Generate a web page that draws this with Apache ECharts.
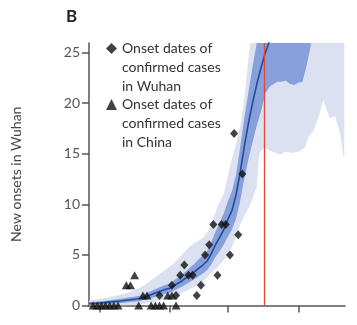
<!DOCTYPE html>
<html><head><meta charset="utf-8">
<script src="https://cdn.jsdelivr.net/npm/echarts@6/dist/echarts.min.js"></script>
<style>html,body{margin:0;padding:0;background:#fff}#c{width:357px;height:325px}</style>
</head><body><div id="c"></div>
<script>
// ---- data (x = days since Dec 1, 2019) ----
const panelLabel = 'B';
const yAxisTitle = 'New onsets in Wuhan';
const yTickStep = 5;
const xTickDays = [14, 31, 45, 62];      // Dec 15, Jan 1, Jan 15, Feb 1
const lockdownDay = 53.8;
const legendWuhan = 'Onset dates of\nconfirmed cases\nin Wuhan';
const legendChina = 'Onset dates of\nconfirmed cases\nin China';

const curve = [[11.5,0.19],[12,0.2],[13,0.22],[14,0.25],[15,0.28],[16,0.33],[17,0.37],[18,0.41],[19,0.45],[20,0.5],[21,0.55],[22,0.6],[23,0.65],[24,0.72],[25,0.85],[26,1.0],[27,1.15],[28,1.3],[29,1.45],[30,1.6],[31,1.7],[32,1.95],[33,2.2],[34,2.45],[35,2.75],[36,3.05],[37,3.35],[38,3.7],[39,4.0],[40,4.4],[41,5.1],[42,6.0],[43,6.7],[44,7.5],[45,8.5],[46,9.4],[47,11.0],[48,13.2],[49,15.8],[50,18.1],[51,20.1],[52,21.9],[53,23.5],[54,24.9],[55,26.1],[56,27.3]];

// [day, lower, upper]
const innerBand = [[11.5,0.07,0.34],[12,0.08,0.35],[13,0.09,0.37],[14,0.1,0.4],[15,0.12,0.44],[16,0.15,0.5],[17,0.18,0.55],[18,0.21,0.6],[19,0.24,0.66],[20,0.28,0.72],[21,0.32,0.78],[22,0.36,0.85],[23,0.4,0.92],[24,0.46,1.0],[25,0.56,1.15],[26,0.68,1.34],[27,0.8,1.52],[28,0.92,1.7],[29,1.05,1.88],[30,1.17,2.05],[31,1.27,2.17],[32,1.47,2.47],[33,1.67,2.77],[34,1.88,3.07],[35,2.12,3.42],[36,2.38,3.8],[37,2.62,4.15],[38,2.9,4.6],[39,3.15,4.95],[40,3.5,5.4],[41,4.05,6.25],[42,4.8,7.3],[43,5.35,8.15],[44,6.0,9.1],[45,6.8,10.3],[46,7.5,11.3],[47,8.6,13.0],[48,10.4,15.7],[49,12.6,18.6],[50,14.5,21.2],[51,16.2,23.7],[52,17.8,26.0],[53,19.2,28.5],[54,20.9,31],[55,21.6,34],[56,21.9,37],[57,22.1,40],[58,22.1,40],[59,22.2,40],[60,21.9,40],[61,21.8,40],[62,22.0,40],[63,22.1,40],[64,23.7,40],[65,25.7,40],[65.5,27,40]];

const outerBand = [[11.5,0,0.5],[12,0,0.55],[13,0,0.6],[14,0,0.65],[15,0,0.72],[16,0,0.8],[17,0,0.88],[18,0,0.95],[19,0,1.05],[20,0,1.15],[21,0.02,1.3],[22,0.05,1.45],[23,0.08,1.6],[24,0.12,1.8],[25,0.18,2.05],[26,0.25,2.35],[27,0.35,2.65],[28,0.45,2.95],[29,0.55,3.25],[30,0.65,3.55],[31,0.75,3.85],[32,0.9,4.2],[33,1.05,4.6],[34,1.25,5.05],[35,1.45,5.5],[36,1.65,5.9],[37,1.85,6.2],[38,2.1,6.4],[39,2.4,6.7],[40,2.8,7.2],[41,3.2,8.1],[42,3.6,9.2],[43,4.0,10.2],[44,4.5,11.0],[45,5.1,12.8],[46,5.8,14.5],[47,6.8,16.0],[48,8.0,17.8],[49,8.9,20.5],[50,9.6,24.5],[51,10.6,28],[52,11.8,32],[52.5,14.8,34],[53,15.3,36],[54,15.6,40],[54.8,15.4,40],[56.4,15.1,40],[57.6,14.9,40],[58.8,15.2,40],[60.4,15.1,40],[62,15.2,40],[63.6,15.6,40],[64.4,16.6,40],[65.6,17.2,40],[66.8,18.5,40],[68,20.3,40],[69.6,18.5,40],[70.9,18.7,40],[72.1,16.9,40],[72.9,14.7,40],[73.1,14.7,40]];

const wuhanOnsets = [[28.5,1],[31.5,2],[32.5,1],[33.5,3],[34.5,4],[35.5,3],[36.5,3],[37.5,1],[38.5,2],[39.5,5],[40.5,6],[41.5,8],[42.5,3],[43.5,8],[44.5,8],[45.5,5],[46.5,17],[47.5,7],[48.5,13]];
const chinaOnsets = [[12.5,0],[13.5,0],[14.5,0],[15.5,0],[16.5,0],[17.5,0],[18.5,0],[20.5,2],[21.5,2],[22.5,3],[23.5,0],[24.5,1],[25.5,1],[26.5,0],[27.5,0],[28.5,0],[29.5,0],[30.5,1],[31.5,1],[32.5,0]];

// ---- chart ----
const FONT = 'Lato';
const chart = echarts.init(document.getElementById('c'), null, {renderer: 'canvas'});

// one filled polygon per band, built from the band values through the axes' scales
function bandSeries(band, color, z) {
  return {
    type: 'custom', data: band, encode: {x: 0, y: [1, 2]}, clip: true, silent: true, z: z,
    renderItem: function (params, api) {
      if (params.dataIndex !== 0) return null;
      const pts = [];
      for (let i = 0; i < band.length; i++) pts.push(api.coord([band[i][0], band[i][2]]));
      for (let i = band.length - 1; i >= 0; i--) pts.push(api.coord([band[i][0], band[i][1]]));
      return {type: 'polygon', shape: {points: pts}, style: {fill: color}};
    }
  };
}

chart.setOption({
  animation: false,
  title: {text: panelLabel, left: 66, top: 8, padding: 0,
    textStyle: {fontFamily: FONT, fontWeight: 'bold', fontSize: 17, color: '#222'}},
  grid: {left: 89, right: 12, top: 43, bottom: 19.5, containLabel: false},
  legend: {
    data: [{name: 'Wuhan', icon: 'diamond'}, {name: 'China', icon: 'triangle'}],
    orient: 'vertical', left: 106, top: 1, padding: 0,
    itemWidth: 11, itemHeight: 11, itemGap: -39, selectedMode: false,
    formatter: n => ' \n \n' + (n === 'Wuhan' ? legendWuhan : legendChina),
    textStyle: {fontFamily: FONT, fontSize: 14, lineHeight: 19, color: '#333'}
  },
  xAxis: {
    type: 'value', min: 11.5, max: 73.26,
    axisLine: {show: true, lineStyle: {color: '#555', width: 1.5}},
    axisTick: {show: true, customValues: xTickDays, length: 7, lineStyle: {color: '#555', width: 1.5}},
    axisLabel: {show: false},
    splitLine: {show: false}
  },
  yAxis: {
    type: 'value', min: 0, max: 25.94, interval: yTickStep,
    name: yAxisTitle, nameLocation: 'middle', nameRotate: 90, nameGap: 66,
    nameTextStyle: {fontFamily: FONT, fontSize: 14, color: '#444'},
    axisLine: {show: true, lineStyle: {color: '#555', width: 1.5}},
    axisTick: {show: true, inside: false, length: 7, lineStyle: {color: '#555', width: 1.5}},
    axisLabel: {fontFamily: FONT, fontSize: 14, color: '#555', margin: 9},
    splitLine: {show: false}
  },
  series: [
    bandSeries(outerBand, '#dce1f1', 1),
    bandSeries(innerBand, '#88a0d9', 2),
    {type: 'line', name: 'Model', data: curve, symbol: 'none', z: 3,
     lineStyle: {color: '#1f4d9b', width: 1.6}, silent: true,
     markLine: {silent: true, symbol: 'none', label: {show: false}, z: 4,
       lineStyle: {color: '#e3473a', width: 1.3, type: 'solid'},
       data: [{xAxis: lockdownDay}]}},
    {type: 'scatter', name: 'Wuhan', data: wuhanOnsets, symbol: 'diamond', symbolSize: [8, 9],
     itemStyle: {color: '#111'}, z: 5},
    {type: 'scatter', name: 'China', data: chinaOnsets, symbol: 'triangle', symbolSize: [9, 8],
     itemStyle: {color: '#111'}, z: 5}
  ]
});
</script></body></html>
